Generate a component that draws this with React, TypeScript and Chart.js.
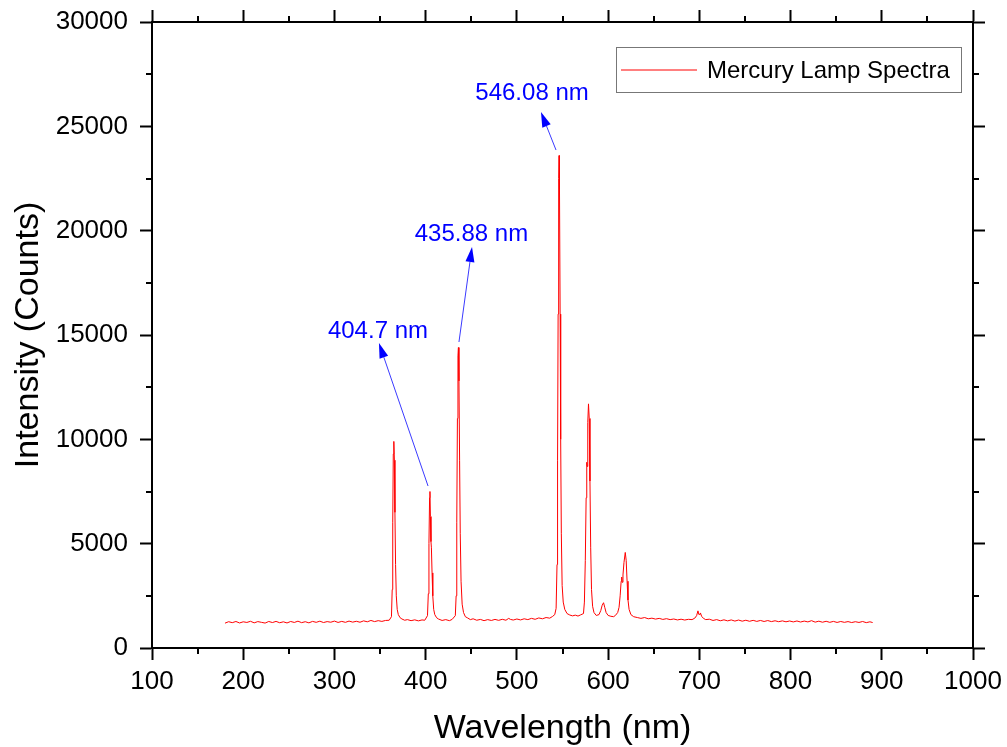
import React, { useEffect, useRef } from "react";
import { Chart, registerables } from "chart.js";

Chart.register(...registerables);

// ---- Data: [wavelength nm, intensity counts] ----
const baselineUV: [number, number][] = [
  [180, 1190], [184, 1260], [188, 1215], [192, 1270], [196, 1200], [200, 1255], [204, 1225], [208, 1280],
  [212, 1205], [216, 1265], [220, 1230], [224, 1195], [228, 1270], [232, 1220], [236, 1275], [240, 1210],
  [244, 1255], [248, 1200], [252, 1270], [256, 1225], [260, 1285], [264, 1215], [268, 1260], [272, 1205],
  [276, 1275], [280, 1230], [284, 1285], [288, 1220], [292, 1265], [296, 1235], [300, 1290], [304, 1225],
  [308, 1275], [312, 1230], [316, 1290], [320, 1240], [324, 1280], [328, 1235], [332, 1300], [336, 1255],
  [340, 1320], [344, 1265], [348, 1310], [352, 1275], [356, 1320], [360, 1330],
];
const peak365: [number, number][] = [
  [362.5, 1500], [363.3, 2800], [363.9, 6000], [364.5, 9300], [365.1, 9900], [365.7, 9000],
  [366.3, 6500], [367, 4000], [367.8, 2500], [368.8, 1850], [370, 1600], [372, 1450],
  [374, 1390], [377, 1330], [380, 1360], [384, 1310], [388, 1350], [392, 1300], [396, 1345], [399, 1330],
];
const peak405: [number, number][] = [
  [402, 1550], [402.9, 2600], [403.6, 5000], [404.3, 7200], [404.7, 7500], [405.2, 6300], [405.8, 5100],
  [406.3, 4800], [407, 3600], [407.8, 2500], [408.8, 1850], [410, 1600], [412, 1450],
  [414, 1390], [418, 1320], [422, 1360], [426, 1310], [429, 1370],
];
const peak436: [number, number][] = [
  [432.5, 1550], [433.4, 2500], [434.1, 6000], [434.8, 11000], [435.4, 14000], [435.9, 14400],
  [436.5, 12800], [437.2, 9000], [437.9, 5500], [438.8, 3200], [440, 2100], [441.5, 1700], [443.5, 1500],
  [446, 1440], [449, 1360], [452, 1400], [456, 1330], [460, 1370], [464, 1310], [468, 1360], [472, 1320],
  [476, 1370], [480, 1325], [484, 1375], [488, 1330], [491, 1420], [493, 1370], [496, 1340], [500, 1390],
  [504, 1345], [508, 1400], [512, 1360], [516, 1420], [520, 1375], [524, 1440], [528, 1400], [532, 1460],
  [536, 1430], [539, 1510],
];
const peak546: [number, number][] = [
  [541.5, 1600], [543, 1900], [544, 4000], [544.6, 9000], [545.2, 16000], [545.8, 22500], [546.2, 23600],
  [546.7, 22000], [547.4, 16000], [548, 10000], [548.7, 5500], [549.6, 3000], [550.8, 2200], [552.5, 1850],
  [555, 1650], [558, 1580], [561, 1540], [564, 1575], [567, 1530], [570, 1590],
];
const peak578: [number, number][] = [
  [573, 1650], [574, 2200], [575, 4200], [575.9, 7200], [576.6, 8900], [577, 8700], [577.7, 10800],
  [578.5, 11700], [579.3, 11000], [580.1, 8000], [580.9, 4800], [581.8, 2800], [583, 2000], [584.5, 1700],
  [587, 1560], [590, 1600], [592, 1800], [593.5, 2050], [595, 2170], [596.3, 1950], [597.8, 1700],
  [600, 1560], [603, 1520], [606, 1500],
];
const peak620: [number, number][] = [
  [608, 1560], [610.5, 1700], [612, 1950], [613.2, 2500], [614.3, 3200], [614.9, 3400], [615.4, 3150],
  [616.3, 3500], [617.4, 4100], [618.8, 4580], [619.8, 4200], [620.8, 3200], [621.8, 2300], [623, 1850],
  [625, 1600], [628, 1500], [632, 1460], [636, 1420], [640, 1460], [644, 1400], [648, 1430], [652, 1385],
  [656, 1420], [660, 1370], [664, 1405], [668, 1360], [672, 1390], [676, 1345], [680, 1380], [684, 1340],
  [688, 1375],
];
const peak700: [number, number][] = [
  [692, 1360], [695, 1430], [697, 1550], [698.5, 1780], [699.4, 1620], [700.3, 1580], [701.2, 1680],
  [702.5, 1520], [704.5, 1420], [707, 1360],
];
const baselineNIR: [number, number][] = [
  [711, 1380], [715, 1320], [719, 1360], [723, 1305], [727, 1350], [731, 1300], [735, 1345], [739, 1290],
  [743, 1340], [747, 1285], [751, 1330], [755, 1280], [759, 1325], [763, 1275], [767, 1320], [771, 1270],
  [775, 1315], [779, 1265], [783, 1305], [787, 1260], [791, 1300], [795, 1255], [799, 1295], [803, 1250],
  [807, 1295], [811, 1245], [815, 1290], [819, 1250], [823, 1310], [827, 1240], [831, 1285], [835, 1235],
  [839, 1280], [843, 1230], [847, 1275], [851, 1225], [855, 1270], [859, 1230], [863, 1265], [867, 1220],
  [871, 1260], [875, 1225], [879, 1270], [883, 1215], [887, 1255], [890, 1220],
];

const seriesLabel = "Mercury Lamp Spectra";
const xAxisTitle = "Wavelength (nm)";
const yAxisTitle = "Intensity (Counts)";

// Peak annotations (data coordinates)
const peakLabels = ["404.7 nm", "435.88 nm", "546.08 nm"];
const peakLabelX = [347.7, 450.2, 516.6];
const peakLabelY = [15191, 19839, 26596];
const arrowTailX = [402.6, 436.5, 542.9];
const arrowTailY = [7763, 14664, 23864];
const arrowHeadX = [348.8, 450.8, 526.4];
const arrowHeadY = [14616, 19216, 25685];

const FONT = "'Liberation Sans', Arial, Helvetica, sans-serif";

const frameMinorTicks = {
  id: "frameMinorTicks",
  afterDraw(chart: any) {
    const ctx = chart.ctx as CanvasRenderingContext2D;
    const { x, y, x2, y2 } = chart.scales;
    ctx.save();
    ctx.strokeStyle = "#000";
    ctx.lineWidth = 2;
    const seg = (a: number, b: number, c: number, d: number) => {
      ctx.beginPath();
      ctx.moveTo(a, b);
      ctx.lineTo(c, d);
      ctx.stroke();
    };
    for (let v = 150; v < 1000; v += 100) {
      const px = Math.round(x.getPixelForValue(v));
      seg(px, x.top, px, x.top + 6);
      seg(px, x2.bottom, px, x2.bottom - 6);
    }
    for (let v = 2500; v < 30000; v += 5000) {
      const py = Math.round(y.getPixelForValue(v));
      seg(y.right, py, y.right - 6, py);
      seg(y2.left, py, y2.left + 6, py);
    }
    ctx.restore();
  },
};

const annotationsPlugin = {
  id: "peakAnnotations",
  afterDatasetsDraw(chart: any) {
    const ctx = chart.ctx as CanvasRenderingContext2D;
    const { x, y } = chart.scales;
    ctx.save();
    for (let i = 0; i < peakLabels.length; i++) {
      const tx = x.getPixelForValue(arrowTailX[i]);
      const ty = y.getPixelForValue(arrowTailY[i]);
      const hx = x.getPixelForValue(arrowHeadX[i]);
      const hy = y.getPixelForValue(arrowHeadY[i]);
      const ang = Math.atan2(hy - ty, hx - tx);
      const headLen = 15;
      const headHalf = 4.5;
      const bx = hx - headLen * Math.cos(ang);
      const by = hy - headLen * Math.sin(ang);
      ctx.strokeStyle = "#3a3aff";
      ctx.lineWidth = 1;
      ctx.beginPath();
      ctx.moveTo(tx, ty);
      ctx.lineTo(bx, by);
      ctx.stroke();
      ctx.fillStyle = "#0000ff";
      ctx.beginPath();
      ctx.moveTo(hx, hy);
      ctx.lineTo(bx + headHalf * Math.sin(ang), by - headHalf * Math.cos(ang));
      ctx.lineTo(bx - headHalf * Math.sin(ang), by + headHalf * Math.cos(ang));
      ctx.closePath();
      ctx.fill();
      ctx.font = `24px ${FONT}`;
      ctx.textAlign = "center";
      ctx.textBaseline = "middle";
      ctx.fillText(peakLabels[i], x.getPixelForValue(peakLabelX[i]), y.getPixelForValue(peakLabelY[i]));
    }
    ctx.restore();
  },
};

const boxLegendPlugin = {
  id: "boxLegend",
  afterDraw(chart: any) {
    const ctx = chart.ctx as CanvasRenderingContext2D;
    const area = chart.chartArea;
    const ds = chart.data.datasets[0];
    const right = area.right - 12;
    const top = area.top + 25;
    const w = 345;
    const h = 45;
    const left = right - w;
    ctx.save();
    ctx.fillStyle = "#fff";
    ctx.fillRect(left, top, w, h);
    ctx.strokeStyle = "#777";
    ctx.lineWidth = 1;
    ctx.strokeRect(left + 0.5, top + 0.5, w, h);
    const cy = top + h / 2 + 0.5;
    ctx.strokeStyle = ds.borderColor;
    ctx.beginPath();
    ctx.moveTo(left + 5, cy);
    ctx.lineTo(left + 81, cy);
    ctx.stroke();
    ctx.fillStyle = "#000";
    ctx.font = `24px ${FONT}`;
    ctx.textAlign = "left";
    ctx.textBaseline = "middle";
    ctx.fillText(ds.label, left + 91, cy + 1);
    ctx.restore();
  },
};

export default function App() {
  const ref = useRef<HTMLCanvasElement>(null);

  useEffect(() => {
    if (!ref.current) return;
    Chart.defaults.font.family = FONT;
    Chart.defaults.color = "#000";
    const spectrum = [
      ...baselineUV, ...peak365, ...peak405, ...peak436, ...peak546,
      ...peak578, ...peak620, ...peak700, ...baselineNIR,
    ];
    const points = spectrum.map(([w, c]) => ({ x: w, y: c }));
    const axisGrid = {
      drawOnChartArea: false,
      drawTicks: true,
      tickLength: 12,
      tickWidth: 2,
      tickColor: "#000",
    };
    const axisBorder = { display: true, color: "#000", width: 2 };
    const noOverflowPad = (s: any) => {
      s.paddingTop = 0;
      s.paddingBottom = 0;
      s.paddingLeft = 0;
      s.paddingRight = 0;
    };
    const chart = new Chart(ref.current, {
      type: "line",
      data: {
        datasets: [
          {
            label: seriesLabel,
            data: points,
            borderColor: "rgb(255,0,0)",
            borderWidth: 1,
            pointRadius: 0,
            tension: 0,
            fill: false,
          },
        ],
      },
      options: {
        responsive: false,
        animation: false,
        layout: { padding: 0 },
        plugins: {
          legend: { display: false },
          tooltip: { enabled: false },
        },
        scales: {
          x: {
            type: "linear",
            position: "bottom",
            min: 100,
            max: 1000,
            grid: axisGrid,
            border: axisBorder,
            ticks: {
              stepSize: 100,
              autoSkip: false,
              maxRotation: 0,
              padding: 6,
              font: { size: 26 },
              color: "#000",
              callback: (v: any) => String(v),
            },
            title: {
              display: true,
              text: xAxisTitle,
              font: { size: 34 },
              color: "#000",
              padding: { top: 0, bottom: -2 },
            },
            afterFit: (s: any) => {
              s.height = 99;
              noOverflowPad(s);
            },
          },
          x2: {
            type: "linear",
            axis: "x",
            position: "top",
            min: 100,
            max: 1000,
            grid: axisGrid,
            border: axisBorder,
            ticks: { stepSize: 100, display: false, autoSkip: false },
            afterFit: (s: any) => {
              s.height = 22;
              noOverflowPad(s);
            },
          },
          y: {
            type: "linear",
            position: "left",
            min: 0,
            max: 30000,
            grid: axisGrid,
            border: axisBorder,
            ticks: {
              stepSize: 5000,
              autoSkip: false,
              padding: 12,
              font: { size: 26 },
              color: "#000",
              callback: (v: any) => String(v),
            },
            title: {
              display: true,
              text: yAxisTitle,
              font: { size: 34 },
              color: "#000",
              padding: { top: 8, bottom: 0 },
            },
            afterFit: (s: any) => {
              s.width = 152;
              noOverflowPad(s);
            },
          },
          y2: {
            type: "linear",
            axis: "y",
            position: "right",
            min: 0,
            max: 30000,
            grid: axisGrid,
            border: axisBorder,
            ticks: { stepSize: 5000, display: false, autoSkip: false },
            afterFit: (s: any) => {
              s.width = 34;
              noOverflowPad(s);
            },
          },
        },
      },
      plugins: [annotationsPlugin, frameMinorTicks, boxLegendPlugin],
    } as any);
    return () => chart.destroy();
  }, []);

  return (
    <div style={{ position: "fixed", left: 0, top: 0, width: 1007, height: 747, background: "#fff" }}>
      <canvas ref={ref} width={1007} height={747} style={{ display: "block" }} />
    </div>
  );
}
